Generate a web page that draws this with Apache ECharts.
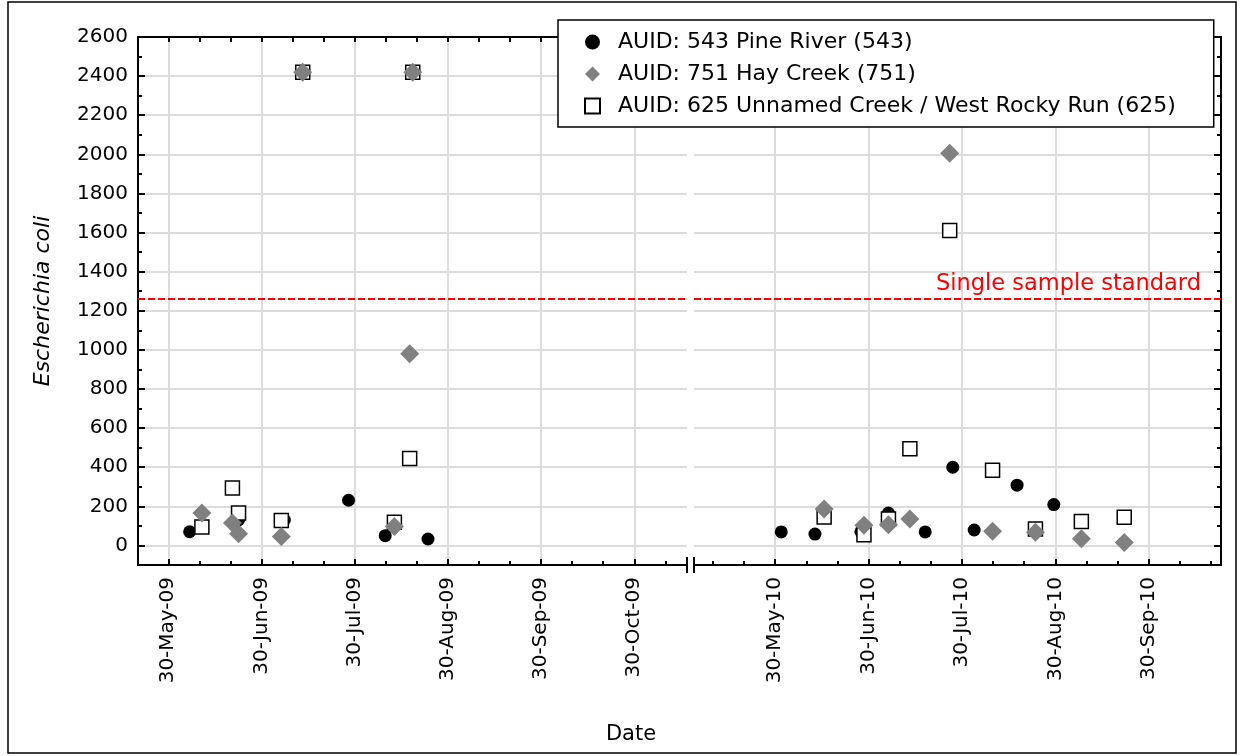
<!DOCTYPE html>
<html>
<head>
<meta charset="utf-8">
<script src="https://cdn.jsdelivr.net/npm/echarts@6/dist/echarts.min.js"></script>
<style>html,body{margin:0;padding:0;background:#fff}#c{width:1244px;height:756px}</style>
</head>
<body>
<div id="c"></div>
<script>
// ---------- data ----------
const N543 = 'AUID: 543 Pine River (543)';
const N751 = 'AUID: 751 Hay Creek (751)';
const N625 = 'AUID: 625 Unnamed Creek / West Rocky Run (625)';

const pine2009 = [['2009-06-06',70],['2009-06-22',130],['2009-07-07',130],['2009-07-28',231],['2009-08-09',50],['2009-08-23',33]];
const hay2009 = [['2009-06-10',166],['2009-06-20',115],['2009-06-22',60],['2009-07-06',46],['2009-07-13',2420],['2009-08-12',97],['2009-08-17',980],['2009-08-18',2420]];
const unnamed2009 = [['2009-06-10',94],['2009-06-20',294],['2009-06-22',166],['2009-07-06',127],['2009-07-13',2420],['2009-08-12',118],['2009-08-17',445],['2009-08-18',2420]];

const pine2010 = [['2010-06-01',69],['2010-06-12',58],['2010-06-27',70],['2010-07-06',166],['2010-07-18',69],['2010-07-27',400],['2010-08-03',79],['2010-08-17',308],['2010-08-29',209]];
const hay2010 = [['2010-06-15',187],['2010-06-28',103],['2010-07-06',106],['2010-07-13',135],['2010-07-26',2005],['2010-08-09',72],['2010-08-23',67],['2010-09-07',34],['2010-09-21',15]];
const unnamed2010 = [['2010-06-15',146],['2010-06-28',55],['2010-07-06',135],['2010-07-13',494],['2010-07-26',1610],['2010-08-09',385],['2010-08-23',84],['2010-09-07',123],['2010-09-21',144]];

const standard = 1260;

// axes (x values are day of year, 0 = 1 Jan)
const leftTickDays = [149, 179.5, 210, 240.5, 271, 301.5];
const leftTickLabels = ['30-May-09','30-Jun-09','30-Jul-09','30-Aug-09','30-Sep-09','30-Oct-09'];
const rightTickDays = [149, 179.5, 210, 240.5, 271];
const rightTickLabels = ['30-May-10','30-Jun-10','30-Jul-10','30-Aug-10','30-Sep-10'];
const leftRange = [139.1, 318.75];
const rightRange = [122.5, 294.6];
const yTicks = [0,200,400,600,800,1000,1200,1400,1600,1800,2000,2200,2400,2600];
const yMinorTicks = [100,300,500,700,900,1100,1300,1500,1700,1900,2100,2300,2500];
const yRange = [-100, 2600];

// ---------- helpers ----------
const FONT = 'DejaVu Sans';
function doy(s){const p=s.split('-').map(Number);return (Date.UTC(p[0],p[1]-1,p[2])-Date.UTC(p[0],0,1))/86400000;}
function pts(a){return a.map(r=>[doy(r[0]), r[1]]);}
function minorsOf(majors, range){
  const step=(majors[1]-majors[0])/3, out=[];
  for(let i=-30;i<=60;i++){
    if(i%3===0) continue;
    const v=majors[0]+i*step;
    if(v>range[0]+0.01 && v<range[1]-0.01) out.push(v);
  }
  return out;
}
function labelFor(ticks, labels){
  return function(v){const i=ticks.findIndex(t=>Math.abs(t-v)<1e-6);return i>=0?labels[i]:'';};
}
const leftMinor = minorsOf(leftTickDays, leftRange);
const rightMinor = minorsOf(rightTickDays, rightRange);
const leftAll = leftTickDays.concat(leftMinor);
const rightAll = rightTickDays.concat(rightMinor);

const GRID_TOP=37, GRID_H=528;
const L_LEFT=138, L_W=549, R_LEFT=694, R_W=527;

const axisLineStyle={color:'#000',width:2};
const gridLine={show:true,lineStyle:{color:'#dcdcdc',width:2}};

function mainX(grid, range, ticks, labels){
  return {gridIndex:grid,type:'value',min:range[0],max:range[1],position:'bottom',
    axisLine:{show:true,onZero:false,lineStyle:axisLineStyle},
    axisTick:{show:true,inside:true,length:6,lineStyle:{color:'#000',width:2},customValues:ticks},
    axisLabel:{show:true,customValues:ticks,rotate:90,margin:12,fontFamily:FONT,fontSize:20,color:'#000',formatter:labelFor(ticks,labels)},
    splitLine:gridLine};
}
function minorX(grid, range, ticks){
  return {gridIndex:grid,type:'value',min:range[0],max:range[1],position:'bottom',
    axisLine:{show:false,onZero:false},
    axisTick:{show:true,inside:true,length:4,lineStyle:{color:'#000',width:2},customValues:ticks},
    axisLabel:{show:false},splitLine:{show:false}};
}
function topX(grid, range, ticks){
  return {gridIndex:grid,type:'value',min:range[0],max:range[1],position:'top',
    axisLine:{show:true,onZero:false,lineStyle:axisLineStyle},
    axisTick:{show:true,inside:true,length:5,lineStyle:{color:'#000',width:2},customValues:ticks},
    axisLabel:{show:false},splitLine:{show:false}};
}
function minorY(grid,pos){
  return {gridIndex:grid,type:'value',min:yRange[0],max:yRange[1],position:pos,
    axisLine:{show:false,onZero:false},
    axisTick:{show:true,inside:true,length:4,lineStyle:{color:'#000',width:2},customValues:yMinorTicks},
    axisLabel:{show:false},splitLine:{show:false}};
}

const markLine={silent:true,symbol:['none','none'],label:{show:false},animation:false,
  lineStyle:{color:'#ff0000',type:[7,3],width:2},data:[{yAxis:standard}]};

function seriesFor(xi, pine, unnamed, hay, withLine){
  return [
    {name:N543,type:'scatter',xAxisIndex:xi,yAxisIndex:xi,symbol:'circle',symbolSize:13,
      itemStyle:{color:'#000',opacity:1},data:pts(pine),markLine:withLine?markLine:undefined,emphasis:{disabled:true}},
    {name:N625,type:'scatter',xAxisIndex:xi,yAxisIndex:xi,symbol:'rect',symbolSize:14,
      itemStyle:{color:'#fff',borderColor:'#000',borderWidth:1.5,opacity:1},data:pts(unnamed),emphasis:{disabled:true}},
    {name:N751,type:'scatter',xAxisIndex:xi,yAxisIndex:xi,symbol:'diamond',symbolSize:19,
      itemStyle:{color:'#808080',opacity:1},data:pts(hay),emphasis:{disabled:true}}
  ];
}

const chart = echarts.init(document.getElementById('c'), null, {renderer:'canvas'});
const option = {
  animation:false,
  backgroundColor:'#fff',
  grid:[
    {left:L_LEFT,top:GRID_TOP,width:L_W,height:GRID_H},
    {left:R_LEFT,top:GRID_TOP,width:R_W,height:GRID_H},
    {left:L_LEFT,top:GRID_TOP,width:L_W,height:GRID_H},
    {left:R_LEFT,top:GRID_TOP,width:R_W,height:GRID_H}
  ],
  xAxis:[
    mainX(0,leftRange,leftTickDays,leftTickLabels),
    mainX(1,rightRange,rightTickDays,rightTickLabels),
    minorX(2,leftRange,leftMinor),
    minorX(3,rightRange,rightMinor),
    topX(0,leftRange,leftAll),
    topX(1,rightRange,rightAll)
  ],
  yAxis:[
    {gridIndex:0,type:'value',min:yRange[0],max:yRange[1],position:'left',
      name:'Escherichia coli',nameLocation:'middle',nameGap:84,
      nameTextStyle:{fontFamily:FONT,fontSize:22,fontStyle:'italic',color:'#000'},
      axisLine:{show:true,onZero:false,lineStyle:axisLineStyle},
      axisTick:{show:true,inside:true,length:7,lineStyle:{color:'#000',width:2},customValues:yTicks},
      axisLabel:{show:true,customValues:yTicks,margin:10,fontFamily:FONT,fontSize:20,color:'#000',formatter:v=>String(v)},
      splitLine:gridLine},
    {gridIndex:1,type:'value',min:yRange[0],max:yRange[1],position:'right',
      axisLine:{show:true,onZero:false,lineStyle:axisLineStyle},
      axisTick:{show:true,inside:true,length:7,lineStyle:{color:'#000',width:2},customValues:yTicks},
      axisLabel:{show:false},splitLine:gridLine},
    minorY(2,'left'),
    minorY(3,'right')
  ],
  legend:{orient:'vertical',left:558,top:20,padding:[11,38,10,26],itemWidth:15,itemHeight:15,itemGap:10,
    borderColor:'#000',borderWidth:1.5,backgroundColor:'#fff',z:10,selectedMode:false,
    textStyle:{fontFamily:FONT,fontSize:22,lineHeight:22,color:'#000',padding:[0,0,0,13]},
    data:[{name:N543,icon:'circle'},{name:N751,icon:'diamond'},{name:N625,icon:'rect'}]},
  series:[].concat(seriesFor(0,pine2009,unnamed2009,hay2009,true), seriesFor(1,pine2010,unnamed2010,hay2010,true))
};
chart.setOption(option);

// decorations: axis break marks, frame, axis title, standard label
const p = chart.convertToPixel({xAxisIndex:1,yAxisIndex:1},[rightRange[1],standard]);
const axisY = GRID_TOP+GRID_H;
chart.setOption({graphic:[
  {type:'rect',shape:{x:8,y:2,width:1228,height:751},style:{fill:'none',stroke:'#000',lineWidth:1.5},z:0,silent:true},
  {type:'line',shape:{x1:L_LEFT+L_W,y1:axisY-8,x2:L_LEFT+L_W,y2:axisY+8},style:{stroke:'#000',lineWidth:2},silent:true},
  {type:'line',shape:{x1:R_LEFT,y1:axisY-8,x2:R_LEFT,y2:axisY+8},style:{stroke:'#000',lineWidth:2},silent:true},
  {type:'text',x:631,y:735,style:{text:'Date',fontFamily:FONT,fontSize:21,fill:'#000',textAlign:'center',textVerticalAlign:'middle'},silent:true},
  {type:'text',x:p[0]-20,y:p[1]-15,style:{text:'Single sample standard',fontFamily:FONT,fontSize:22.5,fill:'#ff0000',textAlign:'right',textVerticalAlign:'middle'},silent:true,z:5}
]});
</script>
</body>
</html>
